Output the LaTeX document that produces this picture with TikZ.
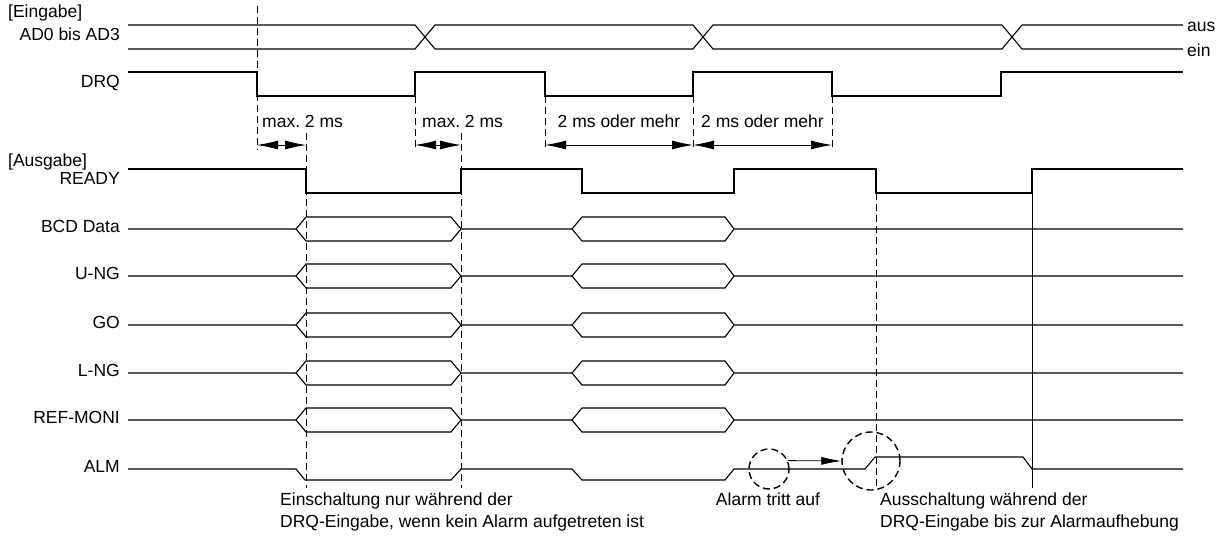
\documentclass[tikz,border=0pt]{standalone}
\usepackage{fontspec}
\setmainfont{Liberation Sans}
\usetikzlibrary{arrows.meta}
\tikzset{
  sig/.style={line width=1.1pt, line join=miter},
  guide/.style={line width=0.8pt, dash pattern=on 7pt off 4pt},
  lbl/.style={inner sep=0pt, text height=0.72em, text depth=0pt},
  note/.style={inner sep=0pt, align=left},
  dim/.style={line width=0.8pt, >={Latex[length=21pt,width=9pt]}, <->},
  alarmring/.style={circle, draw, line width=1.4pt, dash pattern=on 7pt off 4pt, inner sep=0pt},
}

\begin{document}
\begin{tikzpicture}[x=1pt, y=-1pt, font=\fontsize{17.5}{22}\selectfont]
    \useasboundingbox (0,0) rectangle (1231,537);
    % inputs
    \node[lbl, anchor=west] (eingabe) at (8,14) {[Eingabe]};
    \node[lbl, anchor=east] (ad) at (120,37) {AD0 bis AD3};
    \node[lbl, anchor=east] (drq) at (120,84) {DRQ};
    \node[anchor=base west, inner sep=0pt] (aus) at (1187,32) {aus};
    \node[anchor=base west, inner sep=0pt] (ein) at (1187,57) {ein};
    \draw[sig] (128,25) -- (415,25) -- (435,49) -- (693,49) -- (713,25) -- (1002,25) -- (1022,49) -- (1183,49);
    \draw[sig] (128,49) -- (415,49) -- (435,25) -- (693,25) -- (713,49) -- (1002,49) -- (1022,25) -- (1183,25);
    \draw[sig] (128,72) -- (257,72) -- (257,96) -- (415,96) -- (415,72) -- (545,72) -- (545,96)
      -- (693,96) -- (693,72) -- (832,72) -- (832,96) -- (1001,96) -- (1001,72) -- (1183,72);
    % timing guides
    \foreach \x/\ya/\yb/\n in {257/6/150/g1, 306/133/488/g2, 415/96/150/g3, 461/133/488/g4,
        545/96/150/g5, 693/96/150/g6, 832/96/150/g7, 876/193/488/g8} {
      \draw[guide] (\x,\ya) -- (\x,\yb);
      \coordinate (\n) at (\x,145);
    }
    \draw[line width=0.7pt] (1032,193) -- (1032,488);
    \draw[dim] (g1) -- (g2);
    \draw[dim] (g3) -- (g4);
    \draw[dim] (g5) -- node[lbl, yshift=21pt] (dim1) {2 ms oder mehr} (g6);
    \draw[dim] (g6) -- node[lbl, yshift=21pt] (dim2) {2 ms oder mehr} (g7);
    \node[lbl, anchor=west] (max1) at (262,124) {max.\ 2 ms};
    \node[lbl, anchor=west] (max2) at (422,124) {max.\ 2 ms};
    % outputs
    \node[lbl, anchor=west] (ausgabe) at (8,163) {[Ausgabe]};
    \node[lbl, anchor=east] (ready) at (120,181) {READY};
    \draw[sig] (128,169) -- (306,169) -- (306,193) -- (461,193) -- (461,169) -- (582,169) -- (582,193)
      -- (734,193) -- (734,169) -- (876,169) -- (876,193) -- (1032,193) -- (1032,169) -- (1183,169);
    \foreach \y/\n/\t in {229/bcd/BCD Data, 276/ung/U-NG, 325/go/GO, 373/lng/L-NG, 420/refmoni/REF-MONI} {
      \node[lbl, anchor=east] (\n) at (120,\y) {\t};
      \draw[sig] (128,\y) -- (296,\y) -- (306,\y-12) -- (451,\y-12) -- (461,\y) -- (572,\y)
        -- (582,\y-12) -- (725,\y-12) -- (734,\y) -- (1183,\y);
      \draw[sig] (296,\y) -- (306,\y+12) -- (451,\y+12) -- (461,\y);
      \draw[sig] (572,\y) -- (582,\y+12) -- (725,\y+12) -- (734,\y);
    }
    \node[lbl, anchor=east] (alm) at (120,469) {ALM};
    \draw[sig] (128,469) -- (296,469) -- (305,480) -- (451,480) -- (461,469) -- (572,469) -- (582,480)
      -- (725,480) -- (734,469) -- (865,469) -- (875,457) -- (1023,457) -- (1032,469) -- (1183,469);
    % alarm
    \node[alarmring, minimum size=40pt] (ring1) at (769,469) {};
    \node[alarmring, minimum size=58pt] (ring2) at (871,461) {};
    \draw[line width=0.8pt, -{Latex[length=20pt,width=8pt]}] (ring1.24) -- (ring2.west);
    \node[note, anchor=north west] (note1) at (280,493) {Einschaltung nur während der\\DRQ-Eingabe, wenn kein Alarm aufgetreten ist};
    \node[note, anchor=north] (note2) at (768,493) {Alarm tritt auf};
    \node[note, anchor=north west] (note3) at (880,493) {Ausschaltung während der\\DRQ-Eingabe bis zur Alarmaufhebung};
\end{tikzpicture}
\end{document}
